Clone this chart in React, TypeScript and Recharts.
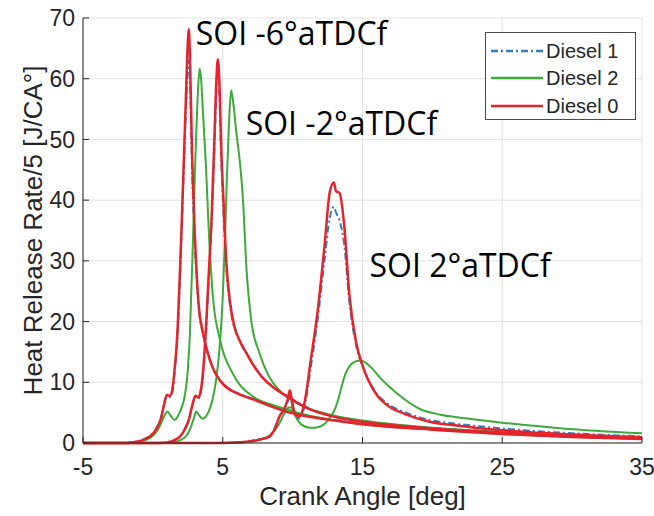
import { LineChart, Line, XAxis, YAxis, CartesianGrid, ReferenceDot } from "recharts";

// axis ticks
const caTicks = [-5, 5, 15, 25, 35];
const hrrTicks = [0, 10, 20, 30, 40, 50, 60, 70];

// SOI -6 aTDCf
const caSoiM6 = [-5, -2, -1.5, -1, -0.5, 0, 0.3, 0.6, 0.85, 1.0, 1.2, 1.35, 1.55, 1.75, 1.95, 2.15, 2.35, 2.5, 2.57, 2.65, 2.78, 3.0, 3.25, 3.6, 3.85, 4.3, 4.8, 5.2, 6.2, 7.4, 8.5, 9.8, 11, 13, 15, 20, 25, 30, 35];
const d0SoiM6 = [0, 0, 0.1, 0.3, 0.7, 1.5, 2.5, 4.2, 6.8, 7.9, 7.8, 8.3, 12, 18, 29, 42, 56, 66, 68.2, 64, 50, 34.5, 23.5, 18, 15.5, 12.3, 10.3, 9.3, 8.0, 7.0, 6.0, 5.0, 4.4, 3.7, 3.1, 2.2, 1.5, 1.0, 0.65];
const d1SoiM6 = [0, 0, 0.1, 0.35, 0.8, 1.6, 2.7, 4.4, 6.9, 7.8, 7.6, 8.0, 11.5, 17, 28, 41, 54, 61.5, 63, 60, 47, 33, 23, 17.8, 15.4, 12.3, 10.4, 9.4, 8.1, 7.1, 6.1, 5.1, 4.5, 3.8, 3.2, 2.3, 1.6, 1.05, 0.7];
const caD2SoiM6 = [-5, -2, -1.5, -1, -0.5, 0, 0.3, 0.6, 0.85, 1.05, 1.3, 1.55, 1.8, 2.0, 2.3, 2.5, 2.65, 2.85, 3.0, 3.12, 3.25, 3.35, 3.45, 3.6, 3.8, 4.0, 4.3, 4.8, 5.7, 7.2, 8.5, 9.8, 11, 13, 15, 20, 25, 30, 35];
const d2SoiM6 = [0, 0, 0.05, 0.15, 0.5, 1.2, 2.0, 3.3, 4.6, 5.2, 4.4, 3.8, 4.5, 5.5, 8, 12, 18, 32, 44, 52, 59, 61.7, 60, 53.8, 45.5, 35, 24, 17, 11.5, 7.6, 6.3, 5.4, 4.6, 3.7, 3.1, 2.2, 1.5, 1.0, 0.7];

// SOI -2 aTDCf
const caSoiM2 = [-5, 0.5, 1.0, 1.5, 2.0, 2.3, 2.6, 2.85, 3.05, 3.25, 3.4, 3.6, 3.8, 4.0, 4.2, 4.4, 4.55, 4.65, 4.75, 4.9, 5.05, 5.25, 5.5, 5.8, 6.0, 6.4, 6.7, 7.2, 7.8, 8.5, 9.5, 11, 13, 15, 20, 25, 30, 35];
const d0SoiM2 = [0, 0, 0.1, 0.4, 1.2, 2.3, 4.0, 6.5, 7.8, 7.5, 8.3, 12, 19, 28, 37, 50, 60, 63.2, 60, 48, 40, 30, 23.6, 19.5, 18, 16, 14.8, 12.8, 10.9, 9.4, 7.8, 5.8, 4.3, 3.5, 2.4, 1.7, 1.1, 0.75];
const d1SoiM2 = [0, 0, 0.12, 0.45, 1.3, 2.4, 4.1, 6.5, 7.6, 7.3, 8.0, 11.5, 18, 27, 36, 48, 58, 61.5, 58, 46, 38, 29, 23, 19.2, 17.8, 15.9, 14.7, 12.8, 10.9, 9.4, 7.9, 5.9, 4.4, 3.6, 2.5, 1.8, 1.15, 0.8];
const caD2SoiM2 = [-5, 1.0, 1.5, 2.0, 2.4, 2.7, 2.95, 3.1, 3.3, 3.55, 3.8, 4.0, 4.25, 4.5, 4.75, 5.0, 5.15, 5.3, 5.45, 5.6, 5.75, 5.98, 6.21, 6.45, 6.69, 7.05, 7.6, 8.3, 9.0, 10, 11, 13, 15, 20, 25, 30, 35];
const d2SoiM2 = [0, 0, 0.15, 0.5, 1.2, 2.5, 4.2, 5.2, 4.6, 4.0, 4.4, 5.2, 7, 10, 15, 24, 33, 44, 53, 58.1, 56, 51, 46.6, 40, 29, 20, 15, 11, 8.8, 7.0, 5.8, 4.5, 3.7, 2.5, 1.8, 1.2, 0.8];

// SOI 2 aTDCf
const caSoi2 = [-5, 4, 6, 7, 7.7, 8.3, 8.7, 9.05, 9.4, 9.65, 9.8, 9.95, 10.15, 10.45, 10.85, 11.3, 11.8, 12.3, 12.65, 12.95, 13.1, 13.35, 13.7, 14.05, 14.55, 15.0, 15.4, 16.0, 16.9, 18, 19.8, 22, 25, 30, 35];
const d0Soi2 = [0, 0, 0.1, 0.3, 0.6, 1.0, 2.2, 4.3, 5.6, 7.2, 8.7, 7.0, 4.9, 4.3, 6.6, 13.7, 21.9, 32.9, 41.2, 42.9, 41.5, 41.2, 35.6, 24.7, 16.5, 12.8, 10.4, 8.0, 6.0, 4.8, 3.5, 2.8, 2.1, 1.4, 0.95];
const d1Soi2 = [0, 0, 0.12, 0.35, 0.7, 1.1, 2.4, 4.4, 5.5, 6.8, 8.0, 6.5, 4.6, 4.0, 6.0, 12.5, 20.5, 30.5, 37, 38.9, 38, 36.7, 32.5, 23.5, 16, 12.6, 10.5, 8.2, 6.3, 5.1, 3.8, 3.1, 2.4, 1.6, 1.1];
const caD2Soi2 = [-5, 4, 6, 7, 7.8, 8.5, 9.0, 9.4, 9.7, 9.9, 10.1, 10.4, 10.8, 11.3, 11.8, 12.4, 13.1, 13.8, 14.3, 14.8, 15.1, 15.6, 16.2, 16.9, 18, 19.1, 20.5, 22.2, 25, 29.3, 35];
const d2Soi2 = [0, 0, 0.05, 0.2, 0.6, 1.5, 3.0, 4.8, 5.8, 5.9, 5.0, 3.6, 2.8, 2.5, 2.6, 3.4, 6.0, 11.5, 13.2, 13.6, 13.4, 12.5, 10.9, 9.3, 7.2, 5.6, 4.7, 4.1, 3.35, 2.4, 1.6];

const soiLabels = ["SOI -6°aTDCf", "SOI -2°aTDCf", "SOI 2°aTDCf"];

const BLUE = "#2f7ec3";
const GREEN = "#3dab3a";
const RED = "#e5232b";
const AXIS = "#262626";
const FONT = "'Liberation Sans', Arial, sans-serif";

const pts = (xs: number[], ys: number[]) => xs.map((ca, i) => ({ ca, hrr: ys[i] }));

const fuels = [
  { name: "Diesel 1", color: BLUE, width: 2, dash: "7 3 2 3" },
  { name: "Diesel 2", color: GREEN, width: 2, dash: undefined },
  { name: "Diesel 0", color: RED, width: 2.5, dash: undefined },
];

// drawn blue first, red last (on top)
const series = [
  { id: "d1m6", fuel: 0, data: pts(caSoiM6, d1SoiM6) },
  { id: "d1m2", fuel: 0, data: pts(caSoiM2, d1SoiM2) },
  { id: "d1p2", fuel: 0, data: pts(caSoi2, d1Soi2) },
  { id: "d2m6", fuel: 1, data: pts(caD2SoiM6, d2SoiM6) },
  { id: "d2m2", fuel: 1, data: pts(caD2SoiM2, d2SoiM2) },
  { id: "d2p2", fuel: 1, data: pts(caD2Soi2, d2Soi2) },
  { id: "d0m6", fuel: 2, data: pts(caSoiM6, d0SoiM6) },
  { id: "d0m2", fuel: 2, data: pts(caSoiM2, d0SoiM2) },
  { id: "d0p2", fuel: 2, data: pts(caSoi2, d0Soi2) },
];

// where the SOI annotations start (data units: crank angle, HRR)
const labelAnchors = [
  [3.07, 65.6],
  [6.64, 50.7],
  [15.5, 27.3],
];

function FuelLegend() {
  return (
    <div
      style={{
        position: "absolute",
        left: 485,
        top: 32,
        width: 151,
        height: 88,
        border: "1px solid #4a4a4a",
        background: "#fff",
        fontFamily: FONT,
        fontSize: 20,
        color: AXIS,
        paddingTop: 4,
        boxSizing: "border-box",
      }}
    >
      {fuels.map((f) => (
        <div key={f.name} style={{ display: "flex", alignItems: "center", height: 27.5 }}>
          <svg width={60} height={10} style={{ display: "block" }}>
            <line x1={5} y1={5} x2={57} y2={5} stroke={f.color} strokeWidth={2.5} strokeDasharray={f.dash} />
          </svg>
          <span style={{ lineHeight: "20px" }}>{f.name}</span>
        </div>
      ))}
    </div>
  );
}

export default function App() {
  return (
    <div style={{ position: "absolute", left: 0, top: 0, width: 654, height: 516, background: "#fff", overflow: "hidden" }}>
      <LineChart width={654} height={516} margin={{ top: 18, right: 12, left: 0, bottom: 0 }}>
        <CartesianGrid stroke="#e2e2e2" strokeWidth={1} />
        <XAxis
          type="number"
          dataKey="ca"
          domain={[-5, 35]}
          ticks={caTicks}
          allowDuplicatedCategory={false}
          height={73}
          stroke={AXIS}
          tickSize={-6}
          tickMargin={22}
          tick={{ fontSize: 23, fill: AXIS, fontFamily: FONT }}
          label={{
            content: (p: any) => {
              const vb = p.viewBox;
              return (
                <text
                  x={vb.x + vb.width / 2}
                  y={505}
                  textAnchor="middle"
                  fontSize={26}
                  fill={AXIS}
                  fontFamily={FONT}
                >
                  Crank Angle [deg]
                </text>
              );
            },
          }}
        />
        <YAxis
          type="number"
          domain={[0, 70]}
          ticks={hrrTicks}
          width={83}
          stroke={AXIS}
          tickSize={-6}
          tickMargin={14}
          tick={{ fontSize: 23, fill: AXIS, fontFamily: FONT }}
          label={{
            content: (p: any) => {
              const vb = p.viewBox;
              const cy = vb.y + vb.height / 2;
              return (
                <text
                  x={42}
                  y={cy}
                  transform={`rotate(-90, 42, ${cy})`}
                  textAnchor="middle"
                  fontSize={26}
                  fill={AXIS}
                  fontFamily={FONT}
                >
                  Heat Release Rate/5 [J/CA°]
                </text>
              );
            },
          }}
        />
        {series.map((s) => {
          const f = fuels[s.fuel];
          return (
            <Line
              key={s.id}
              data={s.data}
              dataKey="hrr"
              type="monotone"
              stroke={f.color}
              strokeWidth={f.width}
              strokeDasharray={f.dash}
              dot={false}
              activeDot={false}
              isAnimationActive={false}
              legendType="none"
            />
          );
        })}
        {soiLabels.map((t, i) => (
          <ReferenceDot
            key={t}
            x={labelAnchors[i][0]}
            y={labelAnchors[i][1]}
            r={0}
            shape={(p: any) => (
              <text x={p.cx} y={p.cy} fontSize={32} fill="#000" fontFamily="'Open Sans', 'Noto Sans', sans-serif">
                {t}
              </text>
            )}
          />
        ))}
      </LineChart>
      <FuelLegend />
    </div>
  );
}
